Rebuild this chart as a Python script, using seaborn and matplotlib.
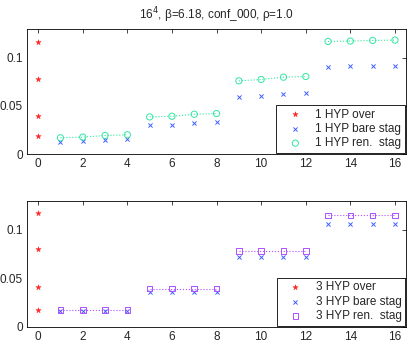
import numpy as np
import pandas as pd
import seaborn as sns
from matplotlib import pyplot as plt

sns.set_style("white")
plt.rcParams['font.family'] = ['Liberation Sans', 'DejaVu Sans']
plt.rcParams['font.size'] = 8.5

# mode index
over_x = [0, 0, 0, 0]
stag_x = list(range(1, 17))

# 1 HYP
over1 = [0.1162, 0.0779, 0.0400, 0.0183]
bare1 = [0.0128, 0.0134, 0.0148, 0.0155,
         0.0300, 0.0307, 0.0324, 0.0331,
         0.0593, 0.0603, 0.0624, 0.0631,
         0.0910, 0.0914, 0.0917, 0.0920]
ren1 = [0.0169, 0.0176, 0.0193, 0.0200,
        0.0386, 0.0393, 0.0414, 0.0421,
        0.0762, 0.0776, 0.0800, 0.0807,
        0.1172, 0.1176, 0.1183, 0.1186]

# 3 HYP
over3 = [0.1177, 0.0799, 0.0406, 0.0177]
bare3 = [0.0160] * 4 + [0.0361] * 4 + [0.0715] * 4 + [0.1063] * 4
ren3 = [0.0170] * 4 + [0.0393] * 4 + [0.0778] * 4 + [0.1149] * 4

red = '#ff2020'
blue = '#4060ff'
green = '#30e8a0'
purple = '#b050ff'

fig = plt.figure(figsize=(4.09, 3.43), dpi=100)
ax1 = fig.add_axes([0.066, 0.551, 0.927, 0.364])
ax2 = fig.add_axes([0.066, 0.0475, 0.927, 0.3675])


def panel(ax, over, bare, ren, n, rmark, rcol, rsize):
    df = pd.DataFrame({'x': stag_x, 'bare': bare, 'ren': ren,
                       'grp': [(i - 1) // 4 for i in stag_x]})
    for g, d in df.groupby('grp'):
        sns.lineplot(data=d, x='x', y='ren', ax=ax, color=rcol, lw=0.8,
                     linestyle=':', legend=False)
    sns.scatterplot(x=over_x, y=over, ax=ax, marker='*', s=16, color=red,
                    edgecolor=red, linewidth=0.3, label=f'{n} HYP over', zorder=3)
    sns.scatterplot(data=df, x='x', y='bare', ax=ax, marker='x', s=9,
                    color=blue, linewidth=0.7, label=f'{n} HYP bare stag', zorder=3)
    sns.scatterplot(data=df, x='x', y='ren', ax=ax, marker=rmark, s=rsize,
                    facecolor='none', edgecolor=rcol, linewidth=0.7,
                    label=f'{n} HYP ren.  stag', zorder=3)
    ax.set_xlim(-0.5, 16.5)
    ax.set_ylim(0, 0.13)
    ax.set_xticks(range(0, 17, 2))
    ax.set_yticks([0, 0.05, 0.1])
    ax.set_yticklabels(['0', '0.05', '0.1'])
    ax.set_xlabel('')
    ax.set_ylabel('')
    ax.tick_params(direction='in', length=3, top=True, right=True, width=0.6,
                   labelsize=8.5, pad=3)
    for sp in ax.spines.values():
        sp.set_linewidth(0.6)
        sp.set_color('black')
    leg = ax.legend(loc='lower right', frameon=True, fancybox=False,
                    edgecolor='black', framealpha=1, borderaxespad=0.1,
                    handletextpad=0.4, labelspacing=0.2, borderpad=0.3,
                    fontsize=8.5, handlelength=2.6)
    leg.get_frame().set_linewidth(0.6)


panel(ax1, over1, bare1, ren1, 1, 'o', green, 20)
panel(ax2, over3, bare3, ren3, 3, 's', purple, 16)

ax1.set_title(r'16$^4$, β=6.18, conf_000, ρ=1.0', fontsize=8.5, pad=7)

fig.savefig('out.png', dpi=100)
